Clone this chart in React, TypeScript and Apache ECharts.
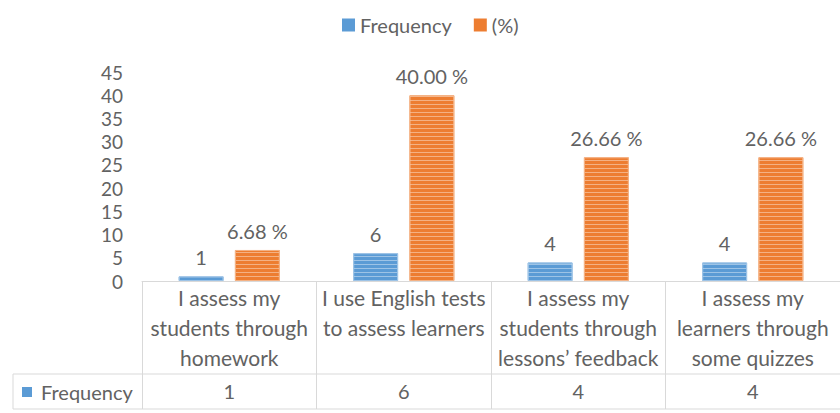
import React, { useEffect, useRef } from "react";
import * as echarts from "echarts";

const categories = [
  "I assess my\nstudents through\nhomework",
  "I use English tests\nto assess learners",
  "I assess my\nstudents through\nlessons’ feedback",
  "I assess my\nlearners through\nsome quizzes",
];
const frequency = [1, 6, 4, 4];
const percent = [6.68, 40.0, 26.66, 26.66];
const yTicks = { min: 0, max: 45, interval: 5 };

const TEXT = "#626262";
const BLUE = "#5B9BD5";
const ORANGE = "#ED7D31";
const LINE = "#D9D9D9";
const FONT = "Lato";

export default function App() {
  const ref = useRef<HTMLDivElement>(null);
  useEffect(() => {
    if (!ref.current) return;
    const chart = echarts.init(ref.current, undefined, { renderer: "svg" });
    const stripes = (c: string) => ({
      symbol: "rect",
      symbolSize: 1,
      dashArrayX: [10, 0],
      dashArrayY: [1, 3],
      color: c,
      rotation: 0,
    });
    chart.setOption({
      animation: false,
      textStyle: { fontFamily: FONT },
      legend: {
        left: 337,
        top: 10,
        itemWidth: 13,
        itemHeight: 13,
        itemGap: 22,
        icon: "rect",
        itemStyle: { decal: "none", borderWidth: 0 },
        textStyle: { color: TEXT, fontSize: 20, fontFamily: FONT },
        data: ["Frequency", "(%)"],
      },
      grid: { left: 142, top: 72, width: 706, height: 209 },
      xAxis: [
        {
          type: "category",
          data: categories,
          position: "bottom",
          axisLine: { show: true, lineStyle: { color: LINE, width: 1 } },
          axisTick: { show: true, length: 128, lineStyle: { color: LINE } },
          axisLabel: {
            interval: 0,
            color: TEXT,
            fontSize: 21,
            lineHeight: 30,
            margin: 1,
            align: "center",
            fontFamily: FONT,
          },
        },
        {
          type: "category",
          data: frequency.map(String),
          position: "bottom",
          offset: 0,
          axisLine: { show: false },
          axisTick: { show: false },
          axisLabel: {
            interval: 0,
            color: TEXT,
            fontSize: 20,
            margin: 100,
            fontFamily: FONT,
          },
        },
      ],
      yAxis: {
        type: "value",
        min: yTicks.min,
        max: yTicks.max,
        interval: yTicks.interval,
        axisLine: { show: false },
        axisTick: { show: false },
        splitLine: { show: false },
        axisLabel: { color: TEXT, fontSize: 19, margin: 19, fontFamily: FONT },
      },
      series: [
        {
          name: "Frequency",
          type: "bar",
          xAxisIndex: 0,
          data: frequency,
          barWidth: 45,
          barGap: "25%",
          itemStyle: {
            color: BLUE,
            borderColor: "#9DC3E6",
            borderWidth: 1,
            decal: stripes("rgba(255,255,255,0.4)"),
          },
          label: {
            show: true,
            position: "top",
            distance: 9,
            color: TEXT,
            fontSize: 20,
            fontFamily: FONT,
          },
        },
        {
          name: "(%)",
          type: "bar",
          xAxisIndex: 0,
          data: percent,
          barWidth: 45,
          itemStyle: {
            color: ORANGE,
            borderColor: "#F4B183",
            borderWidth: 1,
            decal: stripes("rgba(255,255,255,0.4)"),
          },
          label: {
            show: true,
            position: "top",
            distance: 9,
            color: TEXT,
            fontSize: 20,
            fontFamily: FONT,
            formatter: (p: any) => p.value.toFixed(2) + " %",
          },
        },
      ],
      graphic: [
        {
          type: "line",
          shape: { x1: 13, y1: 374, x2: 848, y2: 374 },
          style: { stroke: LINE, lineWidth: 1 },
        },
        {
          type: "line",
          shape: { x1: 13, y1: 409, x2: 848, y2: 409 },
          style: { stroke: LINE, lineWidth: 1 },
        },
        {
          type: "line",
          shape: { x1: 13, y1: 374, x2: 13, y2: 409 },
          style: { stroke: LINE, lineWidth: 1 },
        },
        {
          type: "rect",
          shape: { x: 22, y: 387, width: 10, height: 10 },
          style: { fill: BLUE },
        },
        {
          type: "text",
          x: 41,
          y: 392,
          style: {
            text: "Frequency",
            fill: TEXT,
            fontSize: 20,
            fontFamily: FONT,
            verticalAlign: "middle",
          },
        },
      ],
    });
    return () => chart.dispose();
  }, []);
  return (
    <div
      ref={ref}
      style={{ position: "absolute", left: 0, top: 0, width: 840, height: 413, background: "#fff" }}
    />
  );
}
